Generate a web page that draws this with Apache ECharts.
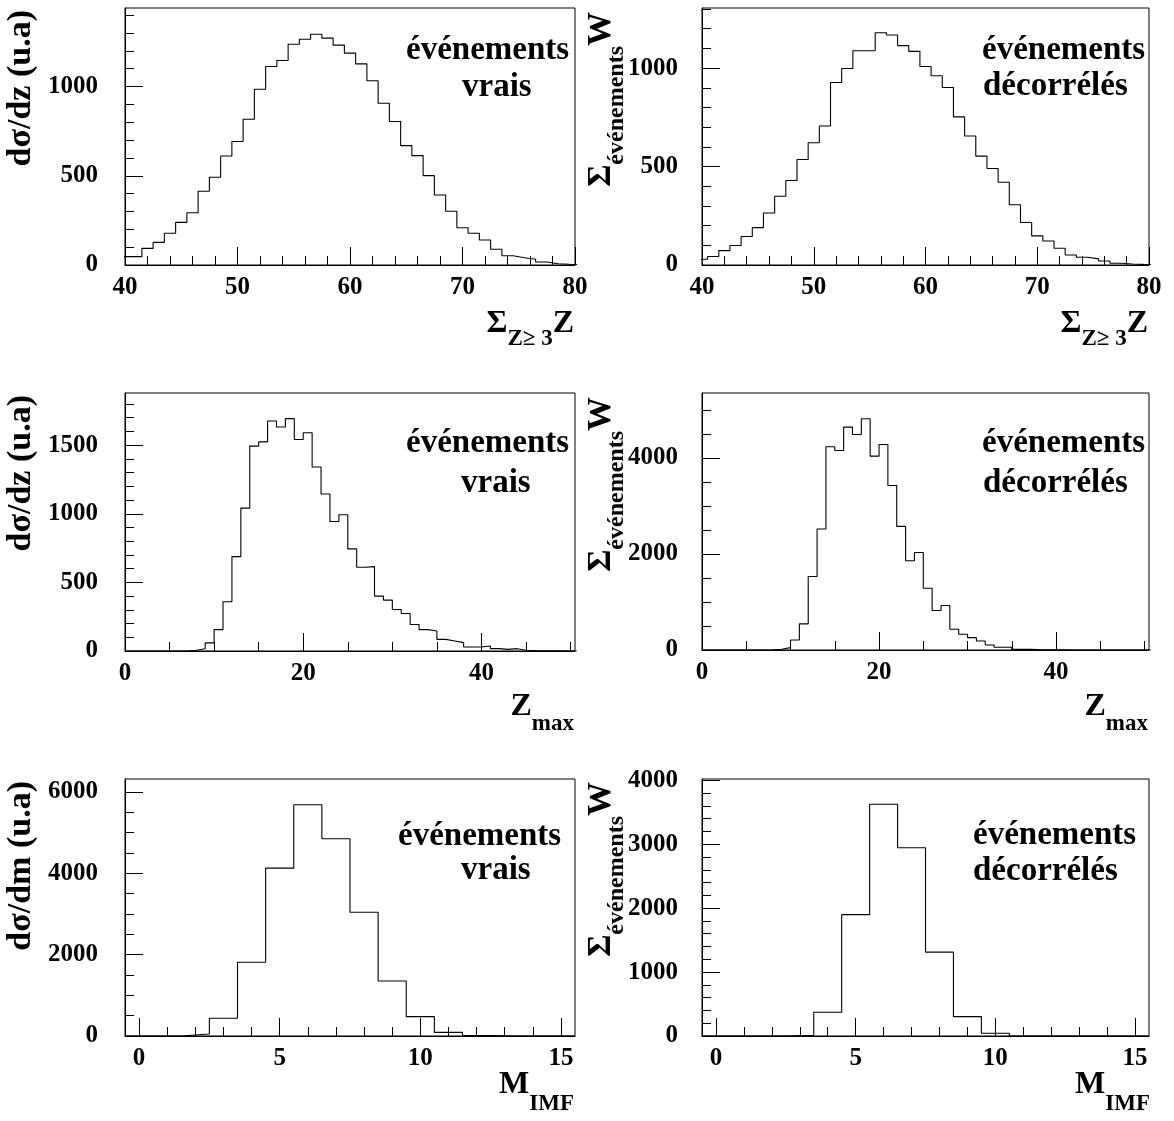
<!DOCTYPE html>
<html><head><meta charset="utf-8">
<script src="https://cdn.jsdelivr.net/npm/echarts@6/dist/echarts.min.js"></script>
<style>html,body{margin:0;padding:0;background:#fff}#c{width:1174px;height:1121px}</style>
</head><body><div id="c"></div><script>
// ---------- DATA ----------
// Sum of Z (Z>=3): bins centred on integers
const zsumBins = [40,41,42,43,44,45,46,47,48,49,50,51,52,53,54,55,56,57,58,59,60,61,62,63,64,65,66,67,68,69,70,71,72,73,74,75,76,77,78,79,80];
const zsumVrais = [47,47,93,127,178,239,293,413,492,611,692,817,985,1112,1146,1237,1265,1293,1271,1232,1187,1127,1032,906,804,669,613,501,392,301,209,178,140,88,52,41,32,17,7,4,2];
const zsumDecorreles = [29,43,73,99,145,190,264,349,429,536,621,706,927,998,1088,1088,1179,1168,1114,1085,1008,961,901,752,655,553,490,420,306,216,148,122,85,51,39,31,20,9,5,3,2];
// Zmax: bins [k, k+1), given by their low edge
const zmaxBinLow = [0,1,2,3,4,5,6,7,8,9,10,11,12,13,14,15,16,17,18,19,20,21,22,23,24,25,26,27,28,29,30,31,32,33,34,35,36,37,38,39,40,41,42,43,44,45,46,47,48,49,50];
const zmaxVrais = [0,0,0,0,0,0,0,5,17,59,156,359,688,1041,1493,1524,1676,1632,1693,1541,1590,1341,1144,944,993,744,610,615,400,371,302,273,193,156,146,85,73,61,29,29,37,17,12,17,5,3,2,1,1,0,0];
const zmaxDecorreles = [0,0,0,0,0,0,0,3,14,49,209,543,1531,2518,4230,4153,4640,4487,4814,4035,4278,3423,2574,1857,2031,1287,821,925,431,327,257,188,104,56,56,14,14,7,3,2,2,1,1,0,0,0,0,0,0,0,0];
// IMF multiplicity: bins centred on integers
const mimfBins = [0,1,2,3,4,5,6,7,8,9,10,11,12,13,14,15];
const mimfVrais = [0,0,49,435,1814,4129,5688,4851,3045,1354,476,90,8,0,0,0];
const mimfDecorreles = [0,0,0,10,371,1898,3624,2944,1312,303,42,0,0,0,0,0];
// tick labels
const zsumTicks = [40,50,60,70,80];
const zmaxTicks = [0,20,40];
const mimfTicks = [0,5,10,15];
const yTicksP1 = [0,500,1000];
const yTicksP2 = [0,500,1000];
const yTicksP3 = [0,500,1000,1500];
const yTicksP4 = [0,2000,4000];
const yTicksP5 = [0,2000,4000,6000];
const yTicksP6 = [0,1000,2000,3000,4000];

// ---------- LAYOUT ----------
const FONT = "'Liberation Serif','Times New Roman',serif";
const mctx = document.createElement('canvas').getContext('2d');
function tw(t, fs){ mctx.font = 'bold ' + fs + 'px ' + FONT; return mctx.measureText(t).width; }
function range(a, b, s){ const r=[]; for(let v=a; v<=b+1e-9; v+=s) r.push(+v.toFixed(6)); return r; }

function histPoints(lows, width, vals){
  const pts = [[lows[0], 0]];
  for (let i=0;i<lows.length;i++) pts.push([lows[i], vals[i]]);
  pts.push([lows[lows.length-1]+width, vals[vals.length-1]]);
  pts.push([lows[lows.length-1]+width, 0]);
  return pts;
}
const centred = b => b.map(v => v - 0.5);

const panels = [
  {grid:{left:125,top:8,width:450,height:257}, lows:centred(zsumBins), vals:zsumVrais,
   xMin:40,xMax:80,xMaj:zsumTicks,xMin2:range(40,80,2), yMax:1440,yMaj:yTicksP1,yMin2:range(0,1400,100), lm:27},
  {grid:{left:702,top:8,width:447,height:257}, lows:centred(zsumBins), vals:zsumDecorreles,
   xMin:40,xMax:80,xMaj:zsumTicks,xMin2:range(40,80,2), yMax:1305,yMaj:yTicksP2,yMin2:range(0,1300,100), lm:24},
  {grid:{left:125,top:393,width:450,height:258}, lows:zmaxBinLow, vals:zmaxVrais,
   xMin:0,xMax:50.5,xMaj:zmaxTicks,xMin2:range(0,50,5), yMax:1880,yMaj:yTicksP3,yMin2:range(0,1800,100), lm:27},
  {grid:{left:702,top:393,width:447,height:257}, lows:zmaxBinLow, vals:zmaxDecorreles,
   xMin:0,xMax:50.5,xMaj:zmaxTicks,xMin2:range(0,50,5), yMax:5350,yMaj:yTicksP4,yMin2:range(0,5000,500), lm:24},
  {grid:{left:125,top:779,width:450,height:257}, lows:centred(mimfBins), vals:mimfVrais,
   xMin:-0.5,xMax:15.5,xMaj:mimfTicks,xMin2:range(0,15,1), yMax:6320,yMaj:yTicksP5,yMin2:range(0,6000,500), lm:27},
  {grid:{left:702,top:779,width:447,height:257}, lows:centred(mimfBins), vals:mimfDecorreles,
   xMin:-0.5,xMax:15.5,xMaj:mimfTicks,xMin2:range(0,15,1), yMax:4020,yMaj:yTicksP6,yMin2:range(0,4000,200), lm:24}
];

const grids=[], xAxes=[], yAxes=[], series=[];
const black = {color:'#000', width:1};
const plain = v => String(v);
panels.forEach((p,i)=>{
  grids.push(Object.assign({show:true, borderColor:'#000', borderWidth:1, backgroundColor:'#fff', containLabel:false}, p.grid));
  const lbl = {show:true, fontFamily:FONT, fontWeight:'bold', fontSize:25, color:'#000', formatter:plain};
  xAxes.push({gridIndex:i, type:'value', position:'bottom', min:p.xMin, max:p.xMax,
    axisLine:{show:true, onZero:false, lineStyle:black},
    axisTick:{show:true, inside:true, length:18, lineStyle:black, customValues:p.xMaj},
    axisLabel:Object.assign({margin:10, customValues:p.xMaj}, lbl),
    splitLine:{show:false}});
  xAxes.push({gridIndex:i, type:'value', position:'bottom', min:p.xMin, max:p.xMax,
    axisLine:{show:false, onZero:false},
    axisTick:{show:true, inside:true, length:9, lineStyle:black, customValues:p.xMin2},
    axisLabel:{show:false}, splitLine:{show:false}});
  yAxes.push({gridIndex:i, type:'value', position:'left', min:0, max:p.yMax,
    axisLine:{show:true, onZero:false, lineStyle:black},
    axisTick:{show:true, inside:true, length:18, lineStyle:black, customValues:p.yMaj},
    axisLabel:Object.assign({margin:p.lm, customValues:p.yMaj}, lbl),
    splitLine:{show:false}});
  yAxes.push({gridIndex:i, type:'value', position:'left', min:0, max:p.yMax,
    axisLine:{show:false, onZero:false},
    axisTick:{show:true, inside:true, length:9, lineStyle:black, customValues:p.yMin2},
    axisLabel:{show:false}, splitLine:{show:false}});
  series.push({type:'line', xAxisIndex:2*i, yAxisIndex:2*i, step:'end', symbol:'none', silent:true,
    clip:true, data:histPoints(p.lows, 1, p.vals), lineStyle:{color:'#000', width:1.1}});
});

// ---------- TEXT ----------
function textEl(x, y, t, fs){
  return {type:'text', x:x, y:y, silent:true,
    style:{text:t, font:'bold '+fs+'px '+FONT, fill:'#000', align:'left', textAlign:'left', verticalAlign:'middle', textVerticalAlign:'middle'}};
}
function hLabel(parts, rightX, baseY){
  const total = parts.reduce((s,q)=>s+tw(q.t,q.fs),0);
  let x = rightX - total; const out=[];
  parts.forEach(q=>{ out.push(textEl(x, baseY + (q.dy||0) - 0.34*q.fs, q.t, q.fs)); x += tw(q.t,q.fs); });
  return out;
}
function vLabel(parts, baseX, topY){
  const total = parts.reduce((s,q)=>s+tw(q.t,q.fs),0);
  let lx = -total; const ch=[];
  parts.forEach(q=>{ ch.push(textEl(lx, (q.dy||0) - 0.34*q.fs, q.t, q.fs)); lx += tw(q.t,q.fs); });
  return {type:'group', x:baseX, y:topY, rotation:Math.PI/2, silent:true, children:ch};
}
const T = 32, S = 23, A = 33;
const graphics = [];
// x-axis titles
[[574,335],[1148,335]].forEach(([r,b])=>graphics.push(...hLabel([{t:'Σ',fs:T},{t:'Z≥ 3',fs:S,dy:12},{t:'Z',fs:T}], r, b)));
[[574,718],[1148,718]].forEach(([r,b])=>graphics.push(...hLabel([{t:'Z',fs:T},{t:'max',fs:S,dy:14}], r, b)));
[[574,1096],[1150,1096]].forEach(([r,b])=>graphics.push(...hLabel([{t:'M',fs:T},{t:'IMF',fs:S,dy:16}], r, b)));
// y-axis titles
graphics.push(vLabel([{t:'dσ/dz (u.a)',fs:34}], 33, 10));
graphics.push(vLabel([{t:'dσ/dz (u.a)',fs:34}], 33, 395));
graphics.push(vLabel([{t:'dσ/dm (u.a)',fs:34}], 33, 781));
[12, 397, 782].forEach(top=>graphics.push(vLabel([{t:'Σ',fs:34},{t:'événements',fs:24,dy:12},{t:'W',fs:34}], 613, top)));
// annotations
function ann(x, base, t){ graphics.push(textEl(x, base - 0.34*A, t, A)); }
ann(406,62,'événements'); ann(462,99,'vrais');
ann(982,62,'événements'); ann(983,98,'décorrélés');
ann(406,455,'événements'); ann(461,495,'vrais');
ann(982,455,'événements'); ann(983,495,'décorrélés');
ann(398,848,'événements'); ann(461,882,'vrais');
ann(973,847,'événements'); ann(973,883,'décorrélés');

const chart = echarts.init(document.getElementById('c'), null, {renderer:'canvas'});
chart.setOption({
  animation:false, backgroundColor:'#fff',
  grid:grids, xAxis:xAxes, yAxis:yAxes, series:series, graphic:{elements:graphics}
});
</script></body></html>
